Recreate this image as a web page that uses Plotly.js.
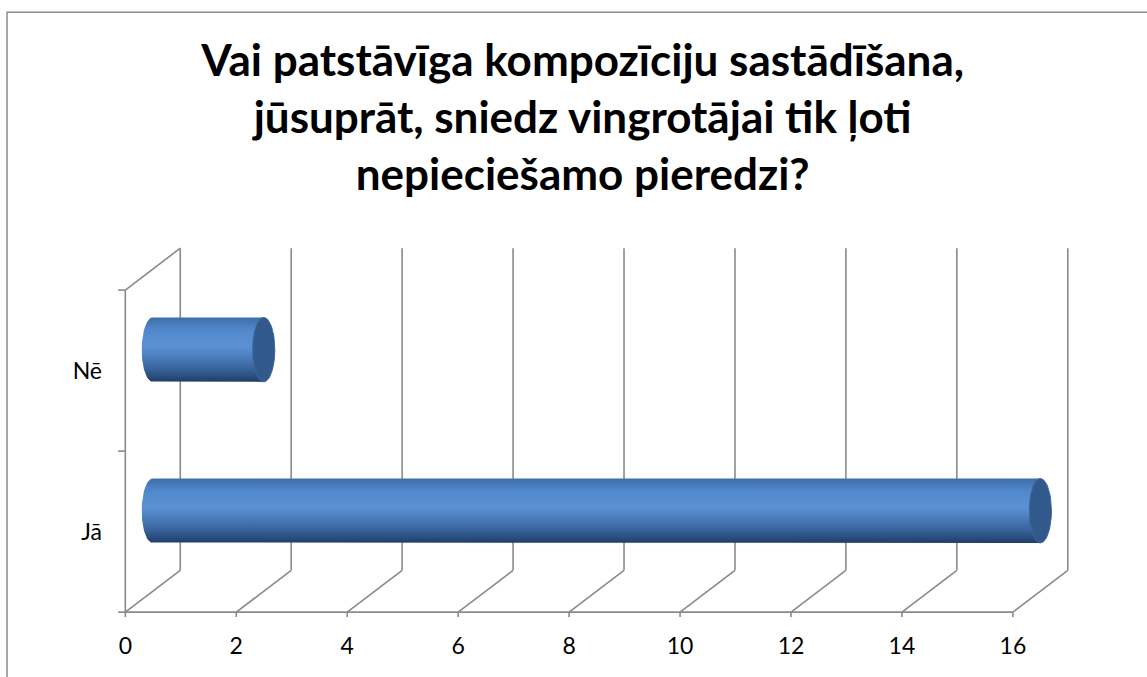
<!DOCTYPE html>
<html>
<head>
<meta charset="utf-8">
<script src="https://cdn.plot.ly/plotly-3.0.1.min.js"></script>
<style>html,body{margin:0;padding:0;background:#fff;}#chart{width:1147px;height:677px;}</style>
</head>
<body>
<div id="chart"></div>
<script>
// ---- data ----
const categories = ['Jā', 'Nē'];
const values = [16, 2];
const xTickVals = [0, 2, 4, 6, 8, 10, 12, 14, 16];
const xTickText = ['0', '2', '4', '6', '8', '10', '12', '14', '16'];
const titleLines = [
  'Vai patstāvīga kompozīciju sastādīšana,',
  'jūsuprāt, sniedz vingrotājai tik ļoti',
  'nepieciešamo pieredzi?'
];

// ---- oblique 3D geometry (style constants, axis units) ----
const DX = 0.99;   // depth offset along x
const DY = 0.26;   // depth offset along y
const R = 0.2;     // cylinder half height (y units)
const A = 0.2;     // ellipse half width (x units)
const yLo = -0.5, yHi = categories.length - 0.5;
const xMax = xTickVals[xTickVals.length - 1];
const gridColor = '#8a8a8a';

// frame / grid lines
const gx = [], gy = [];
function seg(x0, y0, x1, y1) { gx.push(x0, x1, null); gy.push(y0, y1, null); }
xTickVals.forEach(v => {
  seg(v + DX, yLo + DY, v + DX, yHi + DY);       // back wall gridline
  seg(v, yLo, v + DX, yLo + DY);                  // floor diagonal
  seg(v, yLo, v, yLo - 0.03);                     // tick mark
});
seg(0, yLo, xMax, yLo);                           // front value axis
seg(0, yLo, 0, yHi);                              // front category axis
seg(0, yHi, DX, yHi + DY);                        // left wall top edge
for (let k = 0; k <= categories.length; k++) seg(-0.13, k - 0.5, 0, k - 0.5); // category ticks

const traces = [{
  type: 'scatter', mode: 'lines', x: gx, y: gy,
  line: {color: gridColor, width: 1.6}, hoverinfo: 'skip', showlegend: false
}];

const N = 40;
categories.forEach((c, i) => {
  const v = values[i];
  const yc = i + DY / 2;
  const x0 = DX / 2, x1 = v + DX / 2;
  const bx = [x0, x1, x1, x0], by = [yc + R, yc + R, yc - R, yc - R];
  for (let j = 0; j <= N; j++) {
    const t = Math.PI * j / N;
    bx.push(x0 - A * Math.sin(t));
    by.push(yc - R * Math.cos(t));
  }
  traces.push({
    type: 'scatter', mode: 'lines', x: bx, y: by, fill: 'toself',
    line: {width: 0, color: 'rgba(0,0,0,0)'},
    fillgradient: {type: 'vertical', colorscale: [
      [0, '#1f3e68'], [0.22, '#3a66a0'], [0.55, '#5a92d5'], [0.8, '#5289cd'], [1, '#3e6eaa']
    ]},
    name: c, hoverinfo: 'skip', showlegend: false
  });
  const cx = [], cy = [];
  for (let j = 0; j <= 2 * N; j++) {
    const t = Math.PI * j / N;
    cx.push(x1 + A * Math.cos(t));
    cy.push(yc + R * Math.sin(t));
  }
  traces.push({
    type: 'scatter', mode: 'lines', x: cx, y: cy, fill: 'toself',
    fillcolor: '#32598b', line: {width: 1, color: '#3c67a0'},
    text: c + ': ' + v, hoverinfo: 'text', showlegend: false
  });
});

const layout = {
  width: 1147, height: 677,
  margin: {l: 117, r: 62, t: 245, b: 60},
  paper_bgcolor: '#ffffff', plot_bgcolor: 'rgba(0,0,0,0)',
  font: {family: 'Lato, "Open Sans", sans-serif', color: '#000000'},
  title: {
    text: titleLines.join('<br>'),
    font: {family: 'Lato, sans-serif', size: 44, weight: 'bold', color: '#000000'},
    xref: 'container', x: 0.508, xanchor: 'center',
    yref: 'container', y: 0.888, yanchor: 'middle'
  },
  xaxis: {
    range: [-0.15, 17.3], showgrid: false, zeroline: false, showline: false,
    tickmode: 'array', tickvals: xTickVals, ticktext: xTickText,
    ticks: '', ticklabelstandoff: 13,
    tickfont: {family: 'Lato, sans-serif', size: 23, color: '#000'}, fixedrange: true
  },
  yaxis: {
    range: [-0.53, 1.78], showgrid: false, zeroline: false, showline: false,
    tickmode: 'array', tickvals: categories.map((c, i) => i), ticktext: categories,
    ticks: '', ticklabelstandoff: 14,
    tickfont: {family: 'Lato, sans-serif', size: 23, color: '#000'}, fixedrange: true
  },
  shapes: [{
    type: 'rect', xref: 'paper', yref: 'paper',
    x0: -0.1136, x1: 1.2, y0: -0.5, y1: 1.626,
    line: {color: '#8c8c8c', width: 1.5}, fillcolor: 'rgba(0,0,0,0)', layer: 'below'
  }],
  showlegend: false
};

Plotly.newPlot('chart', traces, layout, {displayModeBar: false, staticPlot: true});
</script>
</body>
</html>
